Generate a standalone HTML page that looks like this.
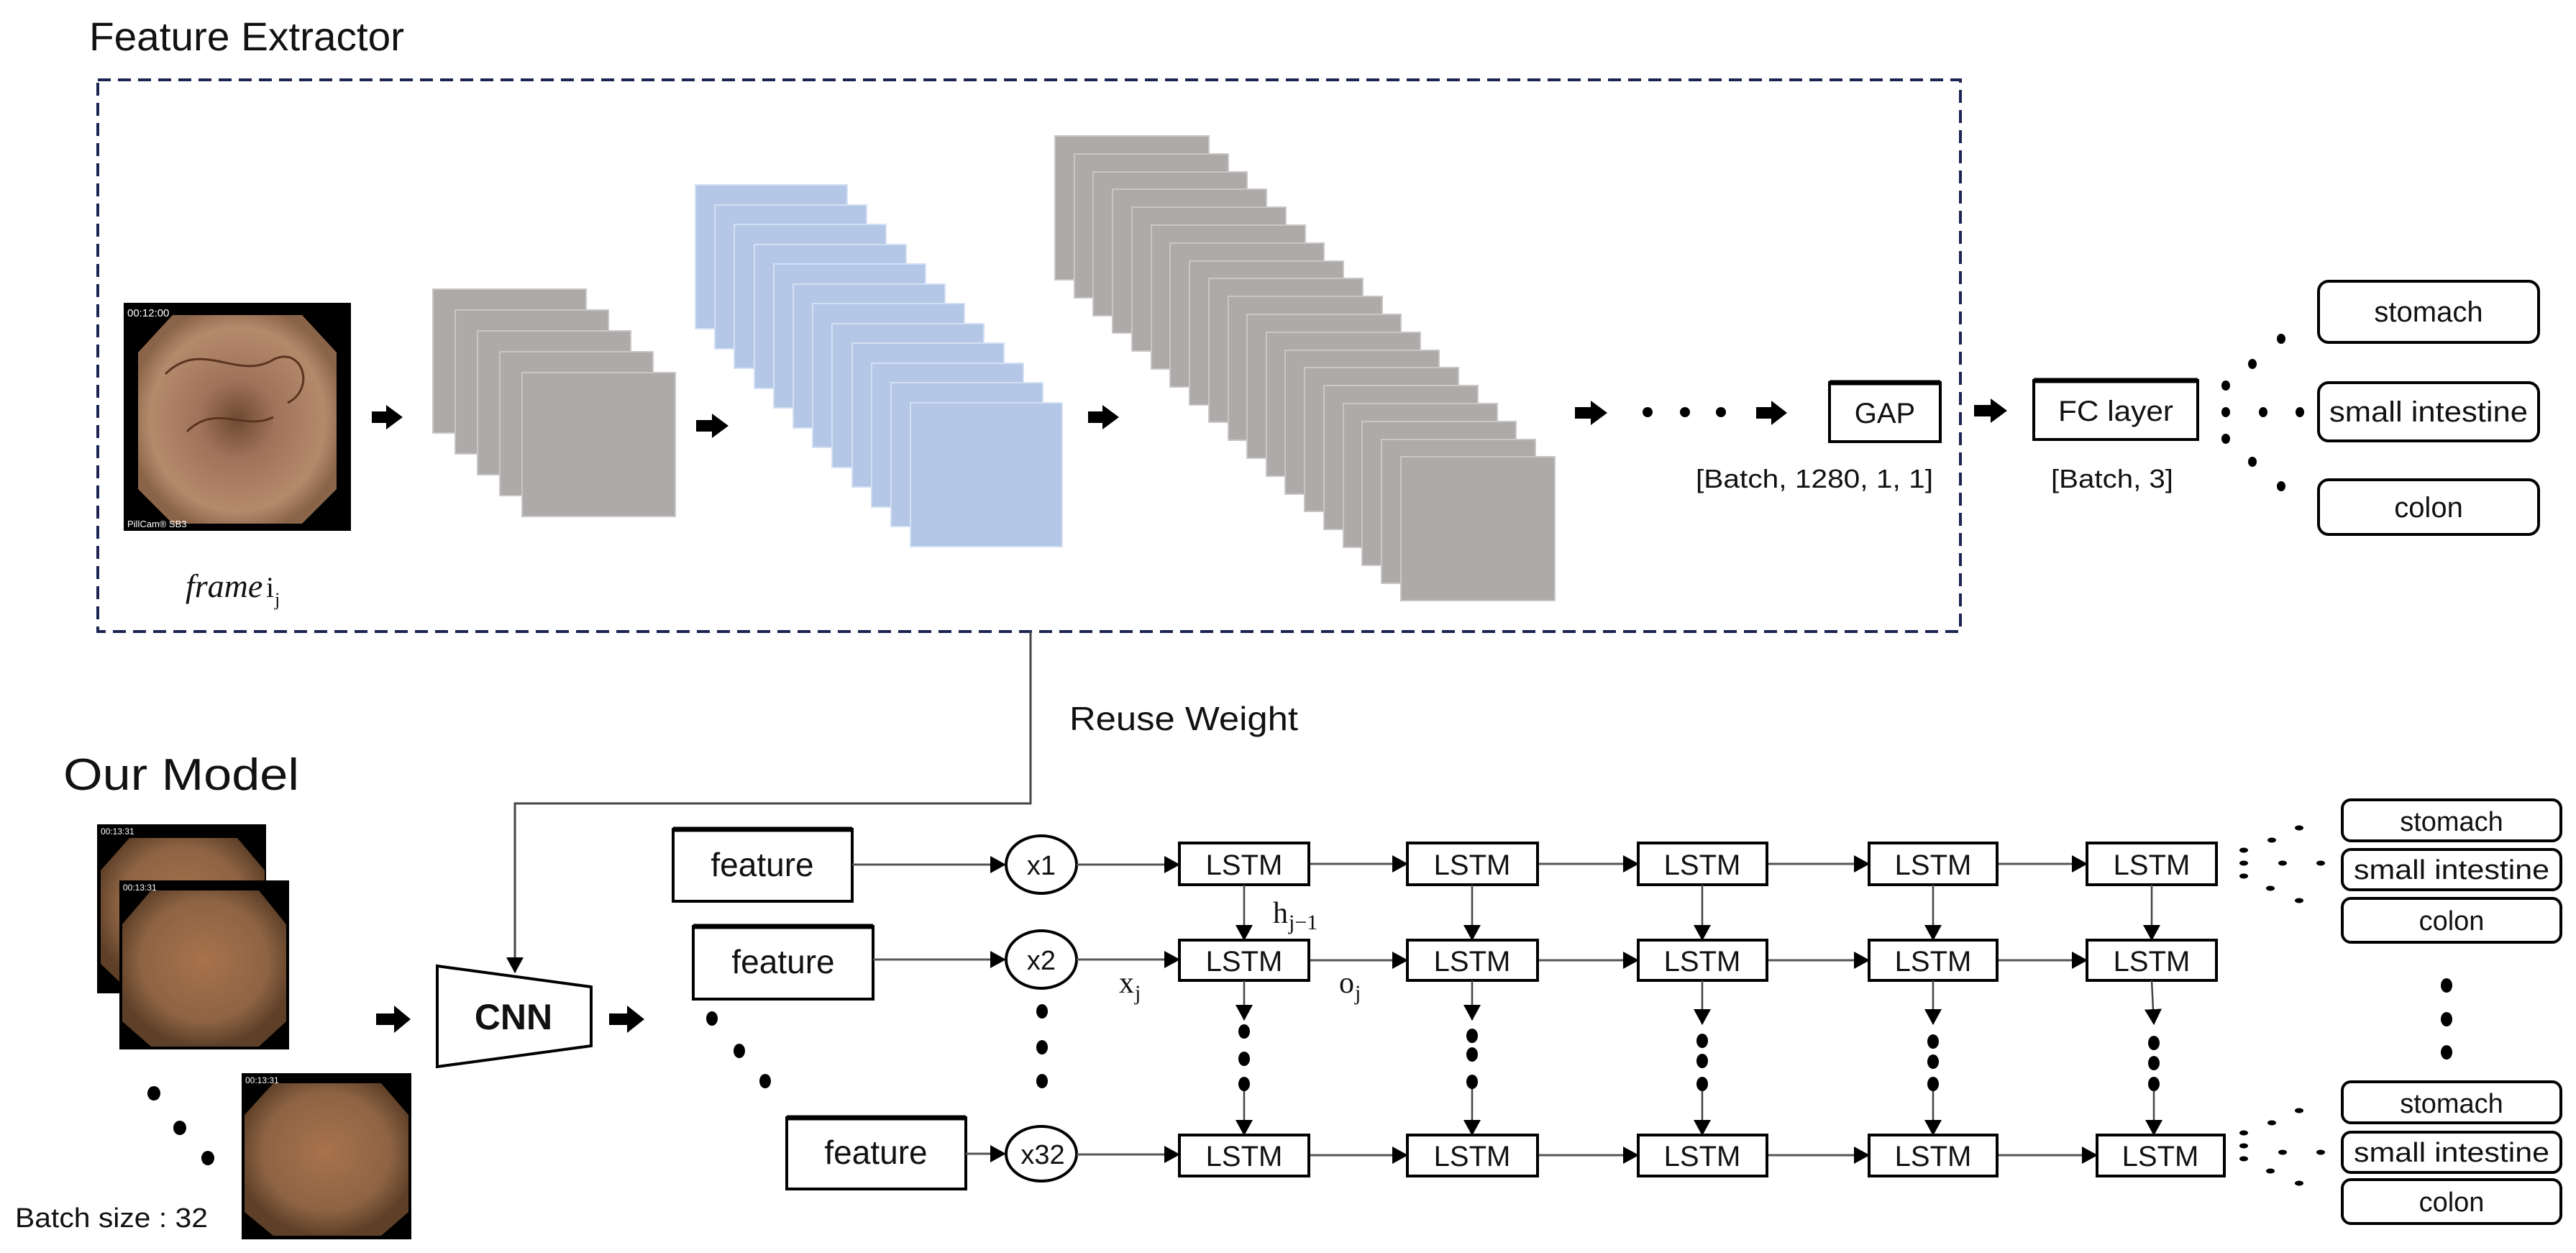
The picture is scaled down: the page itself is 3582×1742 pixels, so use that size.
<!DOCTYPE html>
<html><head><meta charset="utf-8">
<style>
html,body{margin:0;padding:0;background:#fff;}
svg{display:block;}
text{font-family:"Liberation Sans",sans-serif;fill:#111;}
</style></head>
<body>
<svg width="3582" height="1742" viewBox="0 0 3582 1742" xmlns="http://www.w3.org/2000/svg">
<defs>
<marker id="ahb" markerWidth="22" markerHeight="24" refX="21" refY="12" orient="auto" markerUnits="userSpaceOnUse">
<path d="M0,0 L22,12 L0,24 Z" fill="#000"/></marker>
<radialGradient id="tis" cx="50%" cy="50%" r="55%">
<stop offset="0" stop-color="#6e4a30"/><stop offset="0.35" stop-color="#a0735a"/><stop offset="0.8" stop-color="#b48a6c"/><stop offset="1" stop-color="#8a6448"/></radialGradient>
<radialGradient id="tis2" cx="50%" cy="45%" r="55%">
<stop offset="0" stop-color="#a8724c"/><stop offset="0.7" stop-color="#8e6444"/><stop offset="1" stop-color="#5e4028"/></radialGradient>
</defs>

<text x="124" y="70" font-size="56" textLength="438" lengthAdjust="spacingAndGlyphs">Feature Extractor</text>
<rect x="136" y="111" width="2590" height="767" fill="none" stroke="#1c2451" stroke-width="4" stroke-dasharray="18,10"/>

<rect x="172" y="421" width="316" height="317" fill="#000"/>
<polygon points="240,438 420,438 468,490 468,680 420,728 240,728 192,680 192,490" fill="url(#tis)"/>
<path d="M230,520 C280,470 330,530 380,500 C420,480 440,540 400,560 M260,600 C300,560 340,600 380,580" stroke="#5a3420" stroke-width="3" fill="none"/>
<text x="177" y="440" font-size="15" style="fill:#fff">00:12:00</text>
<text x="177" y="733" font-size="13" style="fill:#fff">PillCam® SB3</text>
<text x="258" y="830" font-size="46" font-style="italic" style="font-family:'Liberation Serif',serif">frame</text>
<text x="370" y="830" font-size="40" style="font-family:'Liberation Serif',serif">i</text>
<text x="382" y="842" font-size="26" style="font-family:'Liberation Serif',serif">j</text>

<g fill="#000">
<polygon points="517,572 537,572 537,563 560,580 537,597 537,588 517,588"/>
<polygon points="968,584 990,584 990,575 1013,592 990,609 990,600 968,600"/>
<polygon points="1513,572 1533,572 1533,563 1556,580 1533,597 1533,588 1513,588"/>
<polygon points="2190,566 2212,566 2212,557 2235,574 2212,591 2212,582 2190,582"/>
<polygon points="2442,566 2463,566 2463,557 2485,574 2463,591 2463,582 2442,582"/>
<polygon points="2745,563 2768,563 2768,554 2791,571 2768,588 2768,579 2745,579"/>
<polygon points="523,1409 548,1409 548,1398 571,1417 548,1436 548,1425 523,1425"/>
<polygon points="847,1409 872,1409 872,1398 896,1417 872,1436 872,1425 847,1425"/>
</g>

<g fill="#aeaaaa" stroke="#c9c6c6" stroke-width="2">
<rect x="602" y="402" width="213" height="200"/>
<rect x="633" y="431" width="213" height="200"/>
<rect x="664" y="460" width="213" height="200"/>
<rect x="695" y="489" width="213" height="200"/>
<rect x="726" y="518" width="213" height="200"/>
</g>
<g fill="#b4c7e7" stroke="#d4e0f3" stroke-width="2">
<rect x="967" y="257" width="211" height="200"/>
<rect x="994" y="285" width="211" height="200"/>
<rect x="1021" y="312" width="211" height="200"/>
<rect x="1049" y="340" width="211" height="200"/>
<rect x="1076" y="367" width="211" height="200"/>
<rect x="1103" y="395" width="211" height="200"/>
<rect x="1130" y="422" width="211" height="200"/>
<rect x="1157" y="450" width="211" height="200"/>
<rect x="1185" y="477" width="211" height="200"/>
<rect x="1212" y="505" width="211" height="200"/>
<rect x="1239" y="532" width="211" height="200"/>
<rect x="1266" y="560" width="211" height="200"/>
</g>
<g fill="#aeaaaa" stroke="#c9c6c6" stroke-width="2">
<rect x="1467" y="189" width="214" height="200"/>
<rect x="1494" y="214" width="214" height="200"/>
<rect x="1520" y="239" width="214" height="200"/>
<rect x="1547" y="263" width="214" height="200"/>
<rect x="1574" y="288" width="214" height="200"/>
<rect x="1601" y="313" width="214" height="200"/>
<rect x="1627" y="338" width="214" height="200"/>
<rect x="1654" y="363" width="214" height="200"/>
<rect x="1681" y="387" width="214" height="200"/>
<rect x="1708" y="412" width="214" height="200"/>
<rect x="1734" y="437" width="214" height="200"/>
<rect x="1761" y="462" width="214" height="200"/>
<rect x="1787" y="487" width="214" height="200"/>
<rect x="1814" y="511" width="214" height="200"/>
<rect x="1841" y="536" width="214" height="200"/>
<rect x="1868" y="561" width="214" height="200"/>
<rect x="1894" y="586" width="214" height="200"/>
<rect x="1921" y="611" width="214" height="200"/>
<rect x="1948" y="635" width="214" height="200"/>
</g>

<g fill="#000">
<circle cx="2291" cy="573" r="7"/><circle cx="2343" cy="573" r="7"/><circle cx="2393" cy="573" r="7"/>
</g>

<rect x="2544" y="532" width="154" height="82" fill="#fff" stroke="#000" stroke-width="4"/>
<line x1="2544" y1="532" x2="2698" y2="532" stroke="#000" stroke-width="7"/>
<text x="2621" y="588" font-size="40" text-anchor="middle">GAP</text>
<text x="2523" y="678" font-size="36" text-anchor="middle" textLength="330" lengthAdjust="spacingAndGlyphs">[Batch, 1280, 1, 1]</text>
<rect x="2828" y="529" width="228" height="82" fill="#fff" stroke="#000" stroke-width="4"/>
<line x1="2828" y1="529" x2="3056" y2="529" stroke="#000" stroke-width="7"/>
<text x="2942" y="585" font-size="40" text-anchor="middle" textLength="160" lengthAdjust="spacingAndGlyphs">FC layer</text>
<text x="2937" y="678" font-size="36" text-anchor="middle" textLength="170" lengthAdjust="spacingAndGlyphs">[Batch, 3]</text>
<g fill="#000">
<ellipse cx="3172" cy="471" rx="6" ry="7"/><ellipse cx="3132" cy="506" rx="6" ry="7"/>
<ellipse cx="3095" cy="536" rx="6" ry="7"/><ellipse cx="3095" cy="573" rx="6" ry="7"/><ellipse cx="3095" cy="610" rx="6" ry="7"/>
<ellipse cx="3147" cy="573" rx="6" ry="7"/><ellipse cx="3198" cy="573" rx="6" ry="7"/>
<ellipse cx="3132" cy="642" rx="6" ry="7"/><ellipse cx="3172" cy="676" rx="6" ry="7"/>
</g>
<g fill="#fff" stroke="#000" stroke-width="4">
<rect x="3224" y="391" width="306" height="85" rx="14"/>
<rect x="3224" y="532" width="306" height="81" rx="14"/>
<rect x="3224" y="667" width="306" height="76" rx="14"/>
</g>
<text x="3377" y="447" font-size="40" text-anchor="middle">stomach</text>
<text x="3377" y="586" font-size="40" text-anchor="middle" textLength="276" lengthAdjust="spacingAndGlyphs">small intestine</text>
<text x="3377" y="719" font-size="40" text-anchor="middle">colon</text>

<polyline points="1433,878 1433,1117 716,1117 716,1352" fill="none" stroke="#444" stroke-width="3" marker-end="url(#ahb)"/>
<text x="1487" y="1015" font-size="46" textLength="318" lengthAdjust="spacingAndGlyphs">Reuse Weight</text>
<text x="88" y="1098" font-size="62" textLength="328" lengthAdjust="spacingAndGlyphs">Our Model</text>

<rect x="135" y="1146" width="235" height="235" fill="#000"/>
<polygon points="180,1165 330,1165 368,1210 368,1360 330,1378 180,1378 140,1340 140,1210" fill="url(#tis2)"/>
<rect x="166" y="1224" width="236" height="235" fill="#000"/>
<polygon points="210,1238 360,1238 398,1285 398,1420 360,1455 210,1455 170,1420 170,1285" fill="url(#tis2)"/>
<rect x="336" y="1492" width="236" height="231" fill="#000"/>
<polygon points="380,1506 530,1506 568,1550 568,1685 530,1718 380,1718 340,1685 340,1550" fill="url(#tis2)"/>
<text x="140" y="1160" font-size="12" style="fill:#fff">00:13:31</text>
<text x="171" y="1238" font-size="12" style="fill:#fff">00:13:31</text>
<text x="341" y="1506" font-size="12" style="fill:#fff">00:13:31</text>
<g fill="#000"><ellipse cx="214" cy="1520" rx="9" ry="10"/><ellipse cx="250" cy="1568" rx="9" ry="10"/><ellipse cx="289" cy="1610" rx="9" ry="10"/></g>
<text x="21" y="1706" font-size="38" textLength="268" lengthAdjust="spacingAndGlyphs">Batch size : 32</text>

<polygon points="608,1343 822,1372 822,1454 608,1483" fill="#fff" stroke="#000" stroke-width="4"/>
<text x="714" y="1431" font-size="50" font-weight="bold" text-anchor="middle">CNN</text>

<g fill="#fff" stroke="#000" stroke-width="4">
<rect x="936" y="1153" width="249" height="100"/>
<rect x="964" y="1288" width="250" height="101"/>
<rect x="1094" y="1554" width="249" height="99"/>
</g>
<g stroke="#000" stroke-width="7"><line x1="936" y1="1153" x2="1185" y2="1153"/><line x1="964" y1="1288" x2="1214" y2="1288"/><line x1="1094" y1="1554" x2="1343" y2="1554"/></g>
<text x="1060" y="1218" font-size="46" text-anchor="middle">feature</text>
<text x="1089" y="1353" font-size="46" text-anchor="middle">feature</text>
<text x="1218" y="1618" font-size="46" text-anchor="middle">feature</text>
<g fill="#000"><ellipse cx="990" cy="1416" rx="8" ry="10"/><ellipse cx="1028" cy="1461" rx="8" ry="10"/><ellipse cx="1064" cy="1503" rx="8" ry="10"/></g>

<g fill="#fff" stroke="#000" stroke-width="4">
<ellipse cx="1448" cy="1202" rx="49" ry="40"/>
<ellipse cx="1448" cy="1334" rx="49" ry="40"/>
<ellipse cx="1448" cy="1604" rx="49" ry="38"/>
</g>
<text x="1448" y="1216" font-size="38" text-anchor="middle">x1</text>
<text x="1448" y="1348" font-size="38" text-anchor="middle">x2</text>
<text x="1450" y="1618" font-size="38" text-anchor="middle">x32</text>
<g fill="#000"><ellipse cx="1449" cy="1406" rx="8" ry="10"/><ellipse cx="1449" cy="1456" rx="8" ry="10"/><ellipse cx="1449" cy="1503" rx="8" ry="10"/></g>

<g stroke="#555" stroke-width="3" fill="none" marker-end="url(#ahb)">
<line x1="1185" y1="1202" x2="1398" y2="1202"/>
<line x1="1214" y1="1334" x2="1398" y2="1334"/>
<line x1="1343" y1="1604" x2="1398" y2="1604"/>
<line x1="1497" y1="1202" x2="1640" y2="1202"/>
<line x1="1497" y1="1334" x2="1640" y2="1334"/>
<line x1="1497" y1="1605" x2="1640" y2="1605"/>
<line x1="1820" y1="1201" x2="1957" y2="1201"/>
<line x1="2138" y1="1201" x2="2278" y2="1201"/>
<line x1="2457" y1="1201" x2="2599" y2="1201"/>
<line x1="2777" y1="1201" x2="2902" y2="1201"/>
<line x1="1820" y1="1335" x2="1957" y2="1335"/>
<line x1="2138" y1="1335" x2="2278" y2="1335"/>
<line x1="2457" y1="1335" x2="2599" y2="1335"/>
<line x1="2777" y1="1335" x2="2902" y2="1335"/>
<line x1="1820" y1="1606" x2="1957" y2="1606"/>
<line x1="2138" y1="1606" x2="2278" y2="1606"/>
<line x1="2457" y1="1606" x2="2599" y2="1606"/>
<line x1="2777" y1="1606" x2="2916" y2="1606"/>
</g>

<g fill="#fff" stroke="#000" stroke-width="4">
<rect x="1640" y="1172" width="180" height="58"/><rect x="1957" y="1172" width="181" height="58"/><rect x="2278" y="1172" width="179" height="58"/><rect x="2599" y="1172" width="178" height="58"/><rect x="2902" y="1172" width="180" height="58"/>
<rect x="1640" y="1307" width="180" height="56"/><rect x="1957" y="1307" width="181" height="56"/><rect x="2278" y="1307" width="179" height="56"/><rect x="2599" y="1307" width="178" height="56"/><rect x="2902" y="1307" width="180" height="56"/>
<rect x="1640" y="1578" width="180" height="57"/><rect x="1957" y="1578" width="181" height="57"/><rect x="2278" y="1578" width="179" height="57"/><rect x="2599" y="1578" width="178" height="57"/><rect x="2916" y="1578" width="177" height="57"/>
</g>
<g font-size="40" text-anchor="middle">
<text x="1730" y="1216">LSTM</text><text x="2047" y="1216">LSTM</text><text x="2367" y="1216">LSTM</text><text x="2688" y="1216">LSTM</text><text x="2992" y="1216">LSTM</text>
<text x="1730" y="1350">LSTM</text><text x="2047" y="1350">LSTM</text><text x="2367" y="1350">LSTM</text><text x="2688" y="1350">LSTM</text><text x="2992" y="1350">LSTM</text>
<text x="1730" y="1621">LSTM</text><text x="2047" y="1621">LSTM</text><text x="2367" y="1621">LSTM</text><text x="2688" y="1621">LSTM</text><text x="3004" y="1621">LSTM</text>
</g>

<g stroke="#444" stroke-width="2.5" fill="none" marker-end="url(#ahb)">
<line x1="1730" y1="1230" x2="1730" y2="1307"/><line x1="2047" y1="1230" x2="2047" y2="1307"/><line x1="2367" y1="1230" x2="2367" y2="1307"/><line x1="2688" y1="1230" x2="2688" y2="1307"/><line x1="2992" y1="1230" x2="2992" y2="1307"/>
<line x1="1730" y1="1363" x2="1730" y2="1418"/><line x1="2047" y1="1363" x2="2047" y2="1418"/><line x1="2367" y1="1363" x2="2367" y2="1424"/><line x1="2688" y1="1363" x2="2688" y2="1424"/><line x1="2992" y1="1363" x2="2995" y2="1424"/>
<line x1="1730" y1="1510" x2="1730" y2="1578"/><line x1="2047" y1="1510" x2="2047" y2="1578"/><line x1="2367" y1="1510" x2="2367" y2="1578"/><line x1="2688" y1="1510" x2="2688" y2="1578"/><line x1="2995" y1="1510" x2="2995" y2="1578"/>
</g>
<g fill="#000">
<ellipse cx="1730" cy="1434" rx="8" ry="10"/><ellipse cx="1730" cy="1472" rx="8" ry="10"/><ellipse cx="1730" cy="1507" rx="8" ry="10"/>
<ellipse cx="2047" cy="1440" rx="8" ry="10"/><ellipse cx="2047" cy="1466" rx="8" ry="10"/><ellipse cx="2047" cy="1504" rx="8" ry="10"/>
<ellipse cx="2367" cy="1447" rx="8" ry="10"/><ellipse cx="2367" cy="1475" rx="8" ry="10"/><ellipse cx="2367" cy="1507" rx="8" ry="10"/>
<ellipse cx="2995" cy="1450" rx="8" ry="10"/><ellipse cx="2995" cy="1478" rx="8" ry="10"/><ellipse cx="2995" cy="1507" rx="8" ry="10"/>
<ellipse cx="2688" cy="1448" rx="8" ry="10"/><ellipse cx="2688" cy="1476" rx="8" ry="10"/><ellipse cx="2688" cy="1507" rx="8" ry="10"/>
</g>

<text x="1770" y="1283" font-size="42" style="font-family:'Liberation Serif',serif">h</text>
<text x="1792" y="1292" font-size="30" style="font-family:'Liberation Serif',serif">j−1</text>
<text x="1556" y="1380" font-size="42" style="font-family:'Liberation Serif',serif">x</text>
<text x="1578" y="1390" font-size="30" style="font-family:'Liberation Serif',serif">j</text>
<text x="1862" y="1380" font-size="42" style="font-family:'Liberation Serif',serif">o</text>
<text x="1884" y="1390" font-size="30" style="font-family:'Liberation Serif',serif">j</text>

<g fill="#000">
<ellipse cx="3197" cy="1151" rx="6" ry="3.5"/><ellipse cx="3159" cy="1168" rx="6" ry="3.5"/>
<ellipse cx="3120" cy="1182" rx="6" ry="3.5"/><ellipse cx="3120" cy="1200" rx="6" ry="3.5"/><ellipse cx="3120" cy="1218" rx="6" ry="3.5"/>
<ellipse cx="3174" cy="1200" rx="6" ry="3.5"/><ellipse cx="3227" cy="1200" rx="6" ry="3.5"/>
<ellipse cx="3157" cy="1235" rx="6" ry="3.5"/><ellipse cx="3197" cy="1252" rx="6" ry="3.5"/>
<ellipse cx="3197" cy="1544" rx="6" ry="3.5"/><ellipse cx="3159" cy="1561" rx="6" ry="3.5"/>
<ellipse cx="3120" cy="1575" rx="6" ry="3.5"/><ellipse cx="3120" cy="1593" rx="6" ry="3.5"/><ellipse cx="3120" cy="1611" rx="6" ry="3.5"/>
<ellipse cx="3174" cy="1602" rx="6" ry="3.5"/><ellipse cx="3227" cy="1602" rx="6" ry="3.5"/>
<ellipse cx="3157" cy="1628" rx="6" ry="3.5"/><ellipse cx="3197" cy="1645" rx="6" ry="3.5"/>
<ellipse cx="3402" cy="1370" rx="8" ry="10"/><ellipse cx="3402" cy="1417" rx="8" ry="10"/><ellipse cx="3402" cy="1463" rx="8" ry="10"/>
</g>
<g fill="#fff" stroke="#000" stroke-width="4">
<rect x="3257" y="1112" width="304" height="57" rx="12"/>
<rect x="3257" y="1181" width="304" height="56" rx="12"/>
<rect x="3257" y="1249" width="304" height="61" rx="12"/>
<rect x="3257" y="1504" width="304" height="57" rx="12"/>
<rect x="3257" y="1574" width="304" height="56" rx="12"/>
<rect x="3257" y="1640" width="304" height="61" rx="12"/>
</g>
<g font-size="38" text-anchor="middle">
<text x="3409" y="1155">stomach</text>
<text x="3409" y="1222" textLength="272" lengthAdjust="spacingAndGlyphs">small intestine</text>
<text x="3409" y="1293">colon</text>
<text x="3409" y="1547">stomach</text>
<text x="3409" y="1615" textLength="272" lengthAdjust="spacingAndGlyphs">small intestine</text>
<text x="3409" y="1684">colon</text>
</g>
</svg>
</body></html>
